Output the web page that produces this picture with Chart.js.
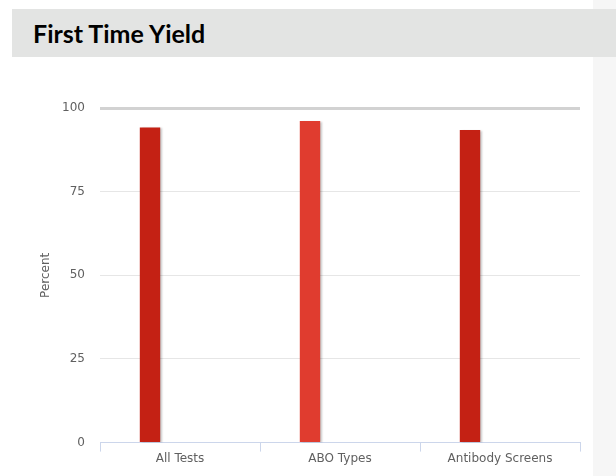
<!DOCTYPE html>
<html>
<head>
<meta charset="utf-8">
<script src="https://cdn.jsdelivr.net/npm/chart.js@4/dist/chart.umd.min.js"></script>
<style>
  html, body { margin: 0; padding: 0; background: #ffffff; }
  #page { position: relative; width: 616px; height: 476px; overflow: hidden; background: #ffffff; }
  #rightStrip { position: absolute; left: 593px; top: 0; width: 23px; height: 476px; background: #f6f6f6; }
  #titleBand { position: absolute; left: 12px; top: 9px; width: 604px; height: 48px; background: #e3e4e3; }
  #titleBand span { position: absolute; left: 21px; top: 9px; line-height: 30px; font-family: Lato, "Open Sans", sans-serif; font-weight: 700; font-size: 25px; color: #000; }
  #chartBox { position: absolute; left: 0; top: 0; width: 616px; height: 476px; }
</style>
</head>
<body>
<div id="page">
  <div id="rightStrip"></div>
  <div id="titleBand"><span>First Time Yield</span></div>
  <div id="chartBox"><canvas id="fty" width="616" height="476"></canvas></div>
</div>
<script>
const categories = ['All Tests', 'ABO Types', 'Antibody Screens'];
const yieldValues = [94.2, 96.1, 93.4];
const targetValues = [null, null, null]; // second series, no data shown
const barColors = ['#c42114', '#e03c2f', '#c42114'];
const yTicks = [0, 25, 50, 75, 100];

// highcharts style soft shadow on the bars
const barShadow = {
    id: 'barShadow',
    beforeDatasetDraw(chart) {
        const ctx = chart.ctx;
        ctx.save();
        ctx.shadowColor = 'rgba(0,0,0,0.22)';
        ctx.shadowOffsetX = 2;
        ctx.shadowOffsetY = 1;
        ctx.shadowBlur = 2;
    },
    afterDatasetDraw(chart) {
        chart.ctx.restore();
    }
};

const ctx = document.getElementById('fty').getContext('2d');
const ftyChart = new Chart(ctx, {
    type: 'bar',
    data: {
        labels: categories,
        datasets: [{
            label: 'First Time Yield',
            data: yieldValues,
            backgroundColor: barColors,
            borderWidth: 0,
            barPercentage: 0.34,
            categoryPercentage: 0.75
        }, {
            label: 'Target',
            data: targetValues,
            backgroundColor: '#888888',
            barPercentage: 0.34,
            categoryPercentage: 0.75
        }]
    },
    options: {
        responsive: false,
        animation: false,
        layout: { padding: { left: 39, right: 36, top: 108, bottom: 10 } },
        plugins: {
            legend: { display: false },
            tooltip: { enabled: false }
        },
        scales: {
            x: {
                grid: {
                    drawOnChartArea: false,
                    drawTicks: true,
                    tickLength: 9,
                    color: '#ccd6eb'
                },
                border: { color: '#ccd6eb', width: 1 },
                ticks: {
                    color: '#606060',
                    font: { family: 'DejaVu Sans', size: 12 },
                    padding: 0
                }
            },
            y: {
                min: 0,
                max: 100,
                afterFit(scale) { scale.width = 61; },
                afterBuildTicks(scale) { scale.ticks = yTicks.map(v => ({ value: v })); },
                border: { display: false },
                grid: {
                    drawTicks: false,
                    color: c => c.tick && c.tick.value === 100 ? '#d2d2d2' : '#e6e6e6',
                    lineWidth: c => c.tick && c.tick.value === 100 ? 3 : 1
                },
                ticks: {
                    color: '#606060',
                    font: { family: 'DejaVu Sans', size: 12 },
                    padding: 15
                },
                title: {
                    display: true,
                    text: 'Percent',
                    color: '#606060',
                    font: { family: 'DejaVu Sans', size: 12 },
                    padding: { top: 0, bottom: 0 }
                }
            }
        }
    },
    plugins: [barShadow]
});
</script>
</body>
</html>
